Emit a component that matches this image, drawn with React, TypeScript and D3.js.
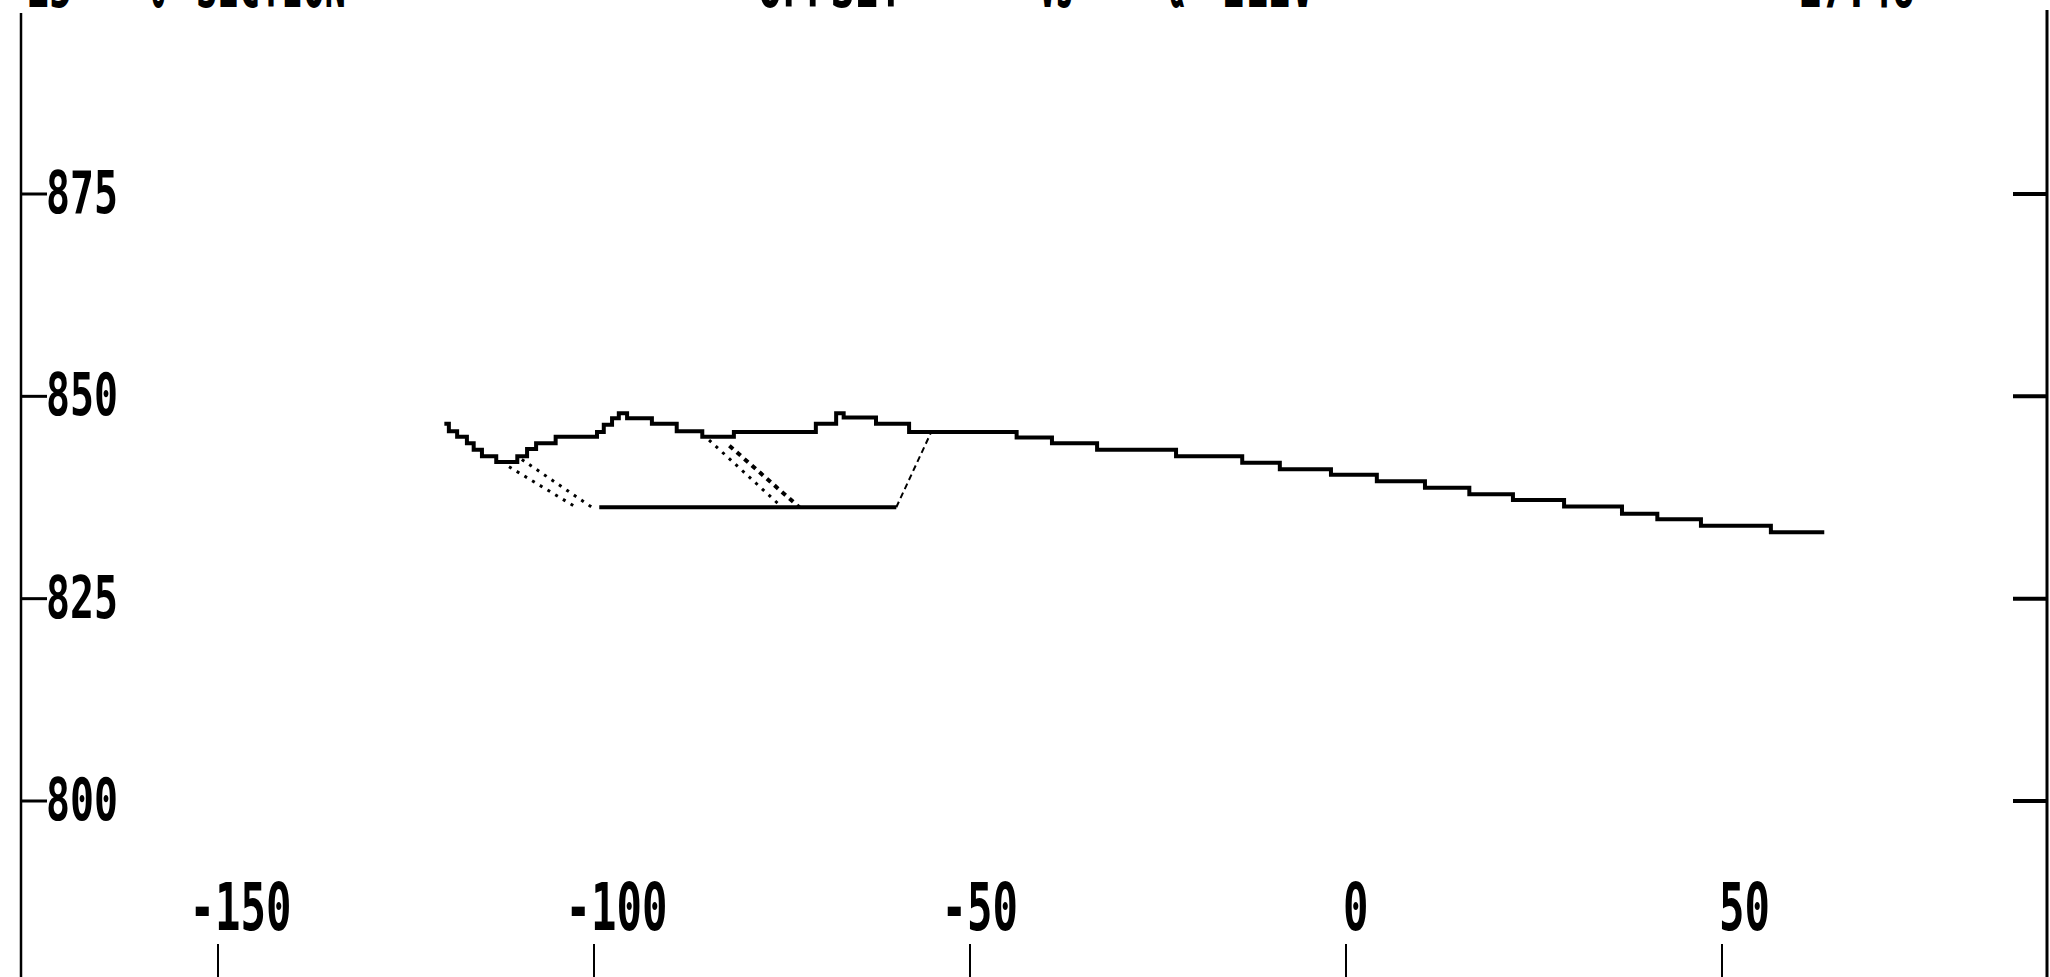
import React from "react";
import * as d3 from "d3";

// ---- data ----
const xTickValues = [-150, -100, -50, 0, 50];
const yTickValues = [800, 825, 850, 875];

// existing ground profile (offset, elevation) – plotted as plotter stair steps
const groundOffsets = [
  -119.9, -119.3, -118.2, -116.9, -116.0, -114.9, -113.0, -110.2, -108.9, -107.7,
  -105.1, -99.6, -98.7, -97.6, -96.7, -95.6, -92.3, -89.0, -85.6, -81.4,
  -70.5, -67.8, -66.8, -62.5, -58.1, -43.8, -39.1, -33.1, -22.6, -13.8,
  -8.8, -2.0, 4.1, 10.5, 16.4, 22.2, 29.0, 36.7, 41.4, 47.2, 56.5, 63.6,
];
const groundElevations = [
  846.6, 845.7, 845.0, 844.2, 843.4, 842.6, 841.9, 842.6, 843.5, 844.2,
  845.0, 845.6, 846.5, 847.3, 847.9, 847.3, 846.6, 845.7, 845.0, 845.6,
  846.6, 847.9, 847.4, 846.6, 845.6, 844.9, 844.2, 843.4, 842.6, 841.8,
  841.0, 840.3, 839.5, 838.7, 837.9, 837.2, 836.4, 835.5, 834.8, 834.0, 833.2, 833.2,
];

// template bottom
const bottomOffsets = [-99.3, -59.8];
const bottomElevations = [836.3, 836.3];
// right side slope (dashed)
const rightSlopeOffsets = [-59.8, -55.2];
const rightSlopeElevations = [836.3, 845.5];
// left side slopes (dotted pair)
const leftSlopeA = { offsets: [-111.3, -102.4], elevations: [841.3, 836.3] };
const leftSlopeB = { offsets: [-109.6, -100.3], elevations: [842.2, 836.3] };
// middle slopes
const midSlopeC = { offsets: [-82.0, -72.7], elevations: [843.9, 836.3] };
const midSlopeD = { offsets: [-84.7, -75.0], elevations: [844.6, 836.3] };

// header text (clipped at the top of the sheet)
const headerTexts = ["15", "6", "SECTION", "OFFSET", "VS", "&", "ELEV", "17:46"];

export default function App() {
  const W = 2050;
  const H = 977;
  const x = d3.scaleLinear().domain([-150, 50]).range([218, 1722]);
  const y = d3.scaleLinear().domain([800, 875]).range([801, 194]);

  const pts = (xs: number[], ys: number[]) => xs.map((v, i) => [v, ys[i]] as [number, number]);
  const stepLine = d3
    .line<[number, number]>()
    .x((d) => x(d[0]))
    .y((d) => y(d[1]))
    .curve(d3.curveStepAfter);
  const straight = d3
    .line<[number, number]>()
    .x((d) => x(d[0]))
    .y((d) => y(d[1]));

  const font = "'DejaVu Sans Mono', monospace";
  const leftAxisX = 21;
  const rightAxisX = 2047;

  // header layout positions
  const headerPos = [
    [26, 46],
    [150, 16],
    [196, 150],
    [758, 145],
    [1039, 34],
    [1170, 14],
    [1222, 92],
    [1798, 117],
  ];

  return (
    <svg
      width={W}
      height={H}
      style={{ position: "absolute", left: 0, top: 0, display: "block", background: "#fff" }}
    >
      <rect x={0} y={0} width={W} height={H} fill="#fff" />

      {/* header text, cut off at the top edge */}
      {headerTexts.map((t, i) => (
        <text
          key={"h" + i}
          x={headerPos[i][0]}
          y={7}
          fontFamily={font}
          fontWeight="bold"
          fontSize={59}
          textLength={headerPos[i][1]}
          lengthAdjust="spacingAndGlyphs"
          fill="#000"
        >
          {t}
        </text>
      ))}

      {/* frame axes */}
      <line x1={leftAxisX} y1={13} x2={leftAxisX} y2={H} stroke="#000" strokeWidth={2.5} />
      <line x1={rightAxisX} y1={10} x2={rightAxisX} y2={H} stroke="#000" strokeWidth={3} />

      {/* y ticks and labels */}
      {yTickValues.map((v) => (
        <g key={"y" + v}>
          <line x1={leftAxisX} x2={47} y1={y(v)} y2={y(v)} stroke="#000" strokeWidth={3} />
          <line x1={2013} x2={rightAxisX} y1={y(v)} y2={y(v)} stroke="#000" strokeWidth={4} />
          <text
            x={46}
            y={y(v) + 19}
            fontFamily={font}
            fontWeight="bold"
            fontSize={59}
            textLength={72}
            lengthAdjust="spacingAndGlyphs"
            fill="#000"
          >
            {String(v)}
          </text>
        </g>
      ))}

      {/* x ticks and labels */}
      {xTickValues.map((v) => {
        const label = String(v);
        const cw = 25.5;
        const neg = v < 0;
        return (
          <g key={"x" + v}>
            <line x1={x(v)} x2={x(v)} y1={944} y2={H} stroke="#000" strokeWidth={2} />
            <text
              x={x(v) - 3 - (neg ? cw : 0)}
              y={930}
              fontFamily={font}
              fontWeight="bold"
              fontSize={66}
              textLength={label.length * cw}
              lengthAdjust="spacingAndGlyphs"
              fill="#000"
            >
              {label}
            </text>
          </g>
        );
      })}

      {/* design template */}
      <path
        d={straight(pts(bottomOffsets, bottomElevations)) || ""}
        fill="none"
        stroke="#000"
        strokeWidth={4}
      />
      <path
        d={straight(pts(rightSlopeOffsets, rightSlopeElevations)) || ""}
        fill="none"
        stroke="#000"
        strokeWidth={2}
        strokeDasharray="6 4"
      />
      {[leftSlopeA, leftSlopeB, midSlopeD].map((s, i) => (
        <path
          key={"dot" + i}
          d={straight(pts(s.offsets, s.elevations)) || ""}
          fill="none"
          stroke="#000"
          strokeWidth={3}
          strokeDasharray="3 6"
        />
      ))}
      <path
        d={straight(pts(midSlopeC.offsets, midSlopeC.elevations)) || ""}
        fill="none"
        stroke="#000"
        strokeWidth={4}
        strokeDasharray="5 5"
      />

      {/* existing ground */}
      <path
        d={stepLine(pts(groundOffsets, groundElevations)) || ""}
        fill="none"
        stroke="#000"
        strokeWidth={4}
      />
    </svg>
  );
}
